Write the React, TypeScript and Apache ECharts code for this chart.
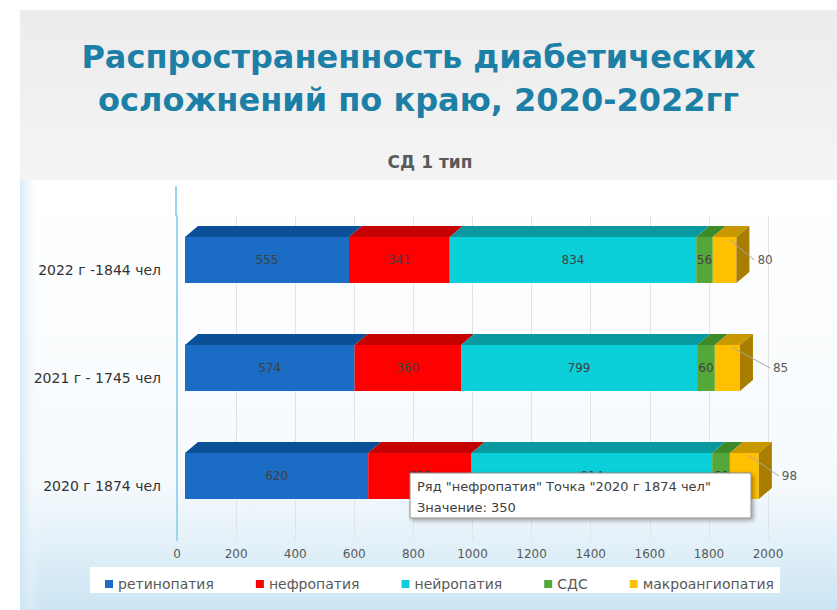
import React, { useEffect, useRef } from "react";
import * as echarts from "echarts";

const categories = ["2020 г 1874 чел", "2021 г - 1745 чел", "2022 г -1844 чел"];
const seriesNames = ["ретинопатия", "нефропатия", "нейропатия", "СДС", "макроангиопатия"];
const retinopathy = [620, 574, 555];
const nephropathy = [350, 360, 341];
const neuropathy = [814, 799, 834];
const sds = [60, 60, 56];
const macroangiopathy = [98, 85, 80];
const seriesValues = [retinopathy, nephropathy, neuropathy, sds, macroangiopathy];

const X_MIN = 0;
const X_MAX = 2000;
const X_INTERVAL = 200;

const frontColors = ["#1b6cc4", "#ff0000", "#0bd0d9", "#54a83a", "#ffc000"];
const topColors = ["#0b4f98", "#c40000", "#07999f", "#3d8a2b", "#c99700"];
const sideColor = "#a97e00";

const FONT = "'DejaVu Sans', 'Noto Sans', sans-serif";
const BAR_H = 46;
const DX = 13;
const DY = 11;
const SHIFT_X = 8;
const SHIFT_Y = -10;

export default function App() {
  const ref = useRef<HTMLDivElement>(null);

  useEffect(() => {
    document.body.style.margin = "0";
    if (!ref.current) return;
    const chart = echarts.init(ref.current, null, { renderer: "svg" });
    const last = seriesValues.length - 1;

    const makeRender = (si: number) => (params: any, api: any) => {
      const ci = api.value(0);
      const start = api.value(1);
      const end = api.value(2);
      const val = api.value(3);
      const a = api.coord([start, ci]);
      const b = api.coord([end, ci]);
      const x0 = a[0] + SHIFT_X;
      const x1 = b[0] + SHIFT_X;
      const yc = a[1] + SHIFT_Y;
      const top = yc - BAR_H / 2;
      const children: any[] = [
        {
          type: "polygon",
          shape: { points: [[x0, top], [x0 + DX, top - DY], [x1 + DX, top - DY], [x1, top]] },
          style: { fill: topColors[si] },
        },
        {
          type: "rect",
          shape: { x: x0, y: top, width: x1 - x0, height: BAR_H },
          style: { fill: frontColors[si] },
        },
      ];
      if (si === last) {
        children.push({
          type: "polygon",
          shape: { points: [[x1, top], [x1 + DX, top - DY], [x1 + DX, top - DY + BAR_H], [x1, top + BAR_H]] },
          style: { fill: sideColor },
        });
        const lx = x1 + DX + 8 + (ci === 0 ? 2 : ci === 1 ? 12 : 0);
        const mx = (x0 + x1) / 2 + 4;
        children.push({
          type: "polyline",
          shape: { points: [[mx, top + 2], [lx - 3, yc]] },
          style: { stroke: "#a6a6a6", lineWidth: 1, fill: "none" },
        });
        children.push({
          type: "text",
          style: {
            text: String(val), x: lx, y: yc, align: "left", verticalAlign: "middle",
            fill: "#595959", font: `12px ${FONT}`,
          },
        });
      } else {
        children.push({
          type: "text",
          style: {
            text: String(val), x: (x0 + x1) / 2, y: yc, align: "center", verticalAlign: "middle",
            fill: "#404040", font: `12px ${FONT}`,
          },
        });
      }
      return { type: "group", children };
    };

    const series = seriesValues.map((vals, si) => ({
      type: "custom",
      name: seriesNames[si],
      coordinateSystem: "cartesian2d",
      itemStyle: { color: frontColors[si] },
      encode: { x: [1, 2], y: 0 },
      data: vals.map((v, ci) => {
        let startV = 0;
        for (let k = 0; k < si; k++) startV += seriesValues[k][ci];
        return [ci, startV, startV + v, v];
      }),
      renderItem: makeRender(si),
      z: 5,
    }));

    const tipFont = `13px ${FONT}`;

    chart.setOption({
      animation: false,
      backgroundColor: "#ffffff",
      title: [
        {
          text: "Распространенность диабетических\nосложнений по краю, 2020-2022гг",
          left: "center",
          top: 30,
          textStyle: {
            color: "#1c7fa6", fontSize: 32, fontWeight: "bold", fontFamily: FONT, lineHeight: 43,
          },
        },
        {
          text: "СД 1 тип",
          left: 425,
          textAlign: "center",
          top: 148,
          textStyle: { color: "#595959", fontSize: 17, fontWeight: "bold", fontFamily: FONT },
        },
      ],
      graphic: [
        {
          type: "rect", z: -100,
          shape: { x: 20, y: 10, width: 817, height: 170 },
          style: {
            fill: new echarts.graphic.LinearGradient(0, 0, 0, 1, [
              { offset: 0, color: "#ececec" },
              { offset: 1, color: "#f4f4f4" },
            ]),
          },
        },
        {
          type: "rect", z: -100,
          shape: { x: 20, y: 180, width: 817, height: 430 },
          style: {
            fill: new echarts.graphic.LinearGradient(0, 0, 0, 1, [
              { offset: 0, color: "#ffffff" },
              { offset: 0.7, color: "#f6fafd" },
              { offset: 0.85, color: "#e2f0f8" },
              { offset: 1, color: "#cbe4f3" },
            ]),
          },
        },
        {
          type: "rect", z: -99,
          shape: { x: 20, y: 180, width: 20, height: 430 },
          style: {
            fill: new echarts.graphic.LinearGradient(0, 0, 1, 0, [
              { offset: 0, color: "rgba(205,228,243,0.8)" },
              { offset: 1, color: "rgba(255,255,255,0)" },
            ]),
          },
        },
        {
          type: "rect", z: -98,
          shape: { x: 90, y: 567, width: 690, height: 26 },
          style: { fill: "#ffffff" },
        },
        {
          type: "line", z: -97,
          shape: { x1: 176, y1: 186, x2: 176, y2: 216 },
          style: { stroke: "#9dd4ee", lineWidth: 2 },
        },
        {
          type: "rect", z: 100,
          shape: { x: 410, y: 473, width: 341, height: 45 },
          style: {
            fill: "#ffffff", stroke: "#8c8c8c", lineWidth: 1,
            shadowBlur: 4, shadowOffsetX: 2, shadowOffsetY: 2, shadowColor: "rgba(0,0,0,0.35)",
          },
        },
        {
          type: "text", z: 101,
          style: {
            text: "Ряд \"нефропатия\" Точка \"2020 г 1874 чел\"", x: 417, y: 486,
            verticalAlign: "middle", fill: "#404040", font: tipFont,
          },
        },
        {
          type: "text", z: 101,
          style: {
            text: "Значение: 350", x: 417, y: 507,
            verticalAlign: "middle", fill: "#404040", font: tipFont,
          },
        },
      ],
      legend: {
        data: seriesNames,
        left: 100,
        top: 572,
        icon: "rect",
        itemWidth: 8,
        itemHeight: 8,
        itemGap: 42,
        textStyle: { color: "#595959", fontSize: 14, fontFamily: FONT },
      },
      grid: { left: 177, right: 69, top: 216, bottom: 70, containLabel: false },
      xAxis: {
        type: "value",
        min: X_MIN,
        max: X_MAX,
        interval: X_INTERVAL,
        axisLine: { show: false },
        axisTick: { show: false },
        splitLine: { show: true, lineStyle: { color: "#e3e3e3" } },
        axisLabel: {
          color: "#595959", fontSize: 12, fontFamily: FONT, margin: 8,
          formatter: (v: number) => String(v),
        },
      },
      yAxis: {
        type: "category",
        data: categories,
        axisLine: { show: true, lineStyle: { color: "#9dd4ee", width: 2 } },
        axisTick: { show: false },
        axisLabel: { color: "#333333", fontSize: 14, fontFamily: FONT, margin: 16 },
      },
      series,
    });
    return () => chart.dispose();
  }, []);

  return <div ref={ref} style={{ width: 837, height: 610 }} />;
}
